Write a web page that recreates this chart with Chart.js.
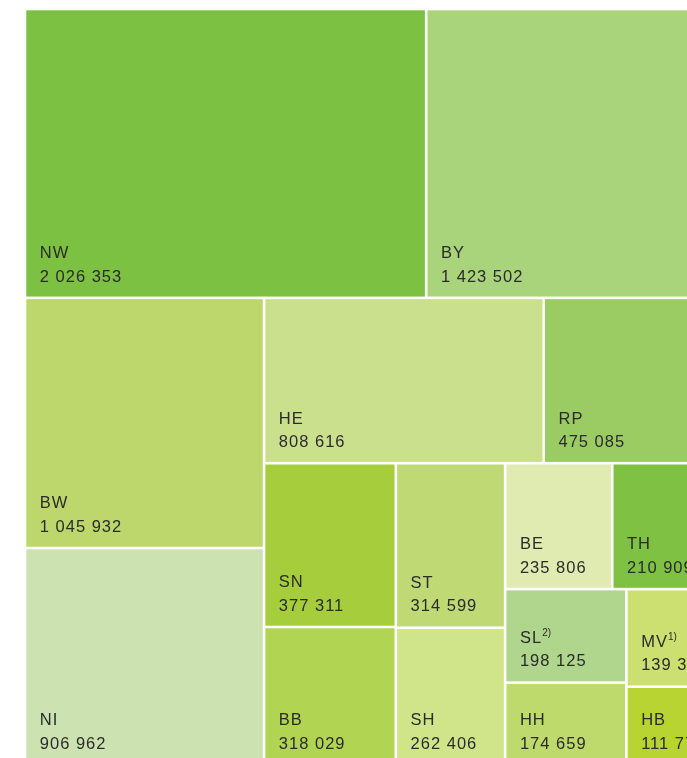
<!DOCTYPE html>
<html>
<head>
<meta charset="utf-8">
<script src="https://cdn.jsdelivr.net/npm/chart.js@4"></script>
<style>
  html, body { margin: 0; padding: 0; background: #fff; overflow: hidden; }
  canvas { display: block; }
</style>
</head>
<body>
<canvas id="treemap" width="708" height="765"></canvas>
<script>
const regions = ['NW','BY','BW','NI','HE','RP','SN','BB','ST','SH','BE','TH','SL','HH','MV','HB'];
const residents = [2026353,1423502,1045932,906962,808616,475085,377311,318029,314599,262406,235806,210909,198125,174659,139300,111772];
const notes = ['','','','','','','','','','','','','2)','','1)',''];
const colors = ['#7dc142','#a9d47b','#bdd76c','#cce3b1','#cae08d','#9bcb63','#a6cd3b','#b1d452',
                '#bfd974','#d0e48a','#e0ebb2','#7fc142','#b0d58c','#bfda6c','#cbe070','#b8d433'];

// size of the layout box in scale units
const BOX_W = 683, BOX_H = 756;

function worst(areas, side) {
  const s = areas.reduce((a, b) => a + b, 0);
  const mx = Math.max(...areas), mn = Math.min(...areas);
  return Math.max(side * side * mx / (s * s), (s * s) / (side * side * mn));
}

// squarified treemap
function squarify(values, x, y, w, h) {
  const total = values.reduce((a, b) => a + b, 0);
  const areas = values.map(v => v * w * h / total);
  const out = [];
  let i = 0;
  while (i < areas.length) {
    const side = Math.min(w, h);
    let row = [areas[i]];
    let j = i + 1;
    while (j < areas.length && worst(row.concat(areas[j]), side) <= worst(row, side)) {
      row.push(areas[j]);
      j++;
    }
    const s = row.reduce((a, b) => a + b, 0);
    if (w >= h) {
      const cw = s / h;
      let yy = y;
      row.forEach(a => { out.push({x: x, y: yy, w: cw, h: a / cw}); yy += a / cw; });
      x += cw; w -= cw;
    } else {
      const rh = s / w;
      let xx = x;
      row.forEach(a => { out.push({x: xx, y: y, w: a / rh, h: rh}); xx += a / rh; });
      y += rh; h -= rh;
    }
    i = j;
  }
  return out;
}

function fmt(n) {
  return String(n).replace(/\B(?=(\d{3})+(?!\d))/g, ' ');
}

const treemapPlugin = {
  id: 'treemap',
  afterDraw(chart) {
    const ctx = chart.ctx;
    const xs = chart.scales.x, ys = chart.scales.y;
    const cells = squarify(residents, 0, 0, BOX_W, BOX_H);
    const gap = 1.3;
    ctx.save();
    cells.forEach((c, k) => {
      const x0 = xs.getPixelForValue(c.x) + gap;
      const x1 = xs.getPixelForValue(c.x + c.w) - gap;
      const y0 = ys.getPixelForValue(c.y) + gap;
      const y1 = ys.getPixelForValue(c.y + c.h) - gap;
      ctx.fillStyle = colors[k];
      ctx.fillRect(x0, y0, x1 - x0, y1 - y0);

      ctx.fillStyle = '#2b2b2b';
      ctx.textBaseline = 'alphabetic';
      ctx.textAlign = 'left';
      ctx.font = '16.5px "Liberation Sans", Arial, sans-serif';
      ctx.letterSpacing = '1px';
      const tx = x0 + 13.5;
      const by = y1 - 15;
      ctx.fillText(fmt(residents[k]), tx, by);
      ctx.fillText(regions[k], tx, by - 23.4);
      if (notes[k]) {
        const wName = ctx.measureText(regions[k]).width;
        ctx.font = '10px "Liberation Sans", Arial, sans-serif';
        ctx.letterSpacing = '0px';
        ctx.fillText(notes[k], tx + wName, by - 30.5);
      }
    });
    ctx.restore();
  }
};

new Chart(document.getElementById('treemap'), {
  type: 'scatter',
  data: { datasets: [] },
  options: {
    responsive: false,
    animation: false,
    layout: { padding: { left: 25, top: 9, right: 0, bottom: 0 } },
    plugins: { legend: { display: false }, tooltip: { enabled: false } },
    scales: {
      x: { display: false, min: 0, max: BOX_W },
      y: { display: false, min: 0, max: BOX_H, reverse: true }
    }
  },
  plugins: [treemapPlugin]
});
</script>
</body>
</html>
